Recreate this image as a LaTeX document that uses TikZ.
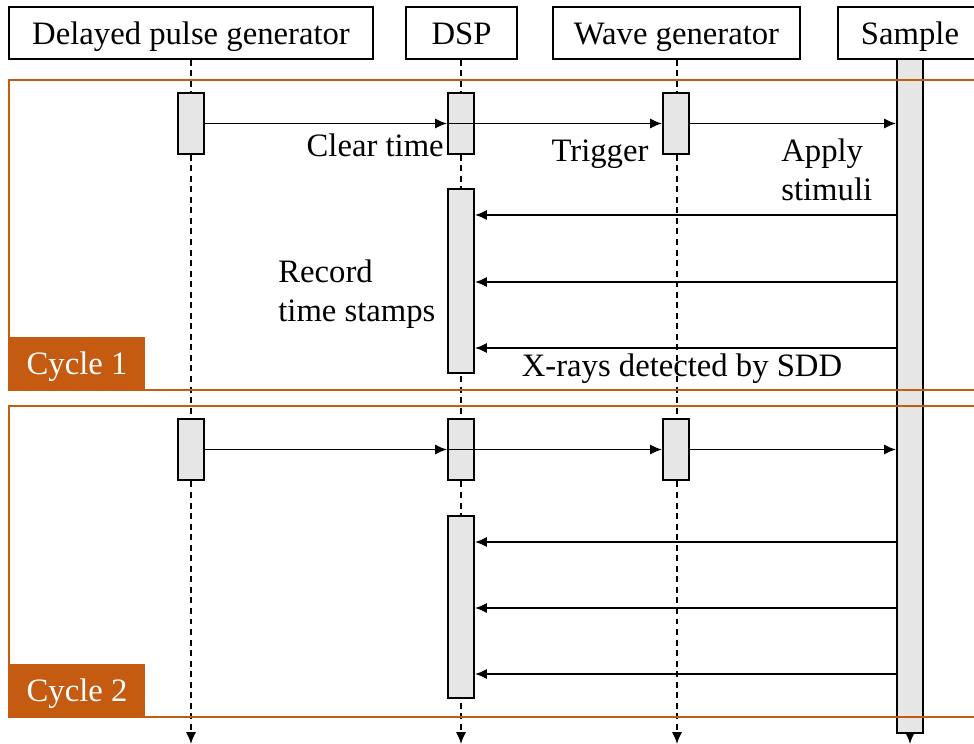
\documentclass[tikz,border=0pt]{standalone}
\usepackage{fontspec}
\setmainfont{Liberation Serif}
\usetikzlibrary{arrows.meta}
\definecolor{cycorange}{HTML}{C55A11}
\definecolor{actgray}{HTML}{E6E6E6}

\begin{document}
\begin{tikzpicture}
[x=0.02cm,y=-0.02cm,>={Latex[length=6.8pt,width=5.8pt]},font=\fontsize{18.6}{22.2}\selectfont,
head/.style={draw,line width=0.9pt,minimum height=1.04cm,inner sep=0pt,text height=13.6pt,text depth=0pt},
act/.style={draw,fill=actgray,line width=1.1pt,minimum width=0.52cm,inner sep=0pt},
life/.style={->,dash pattern=on 3.4pt off 2.6pt,line width=1pt},
msg/.style={->,line width=1.1pt},
frame/.style={draw=cycorange,line width=0.9pt},
tag/.style={fill=cycorange,text=white,minimum width=2.72cm,minimum height=1.06cm,inner sep=0pt,text height=13pt,text depth=0pt},
lbl/.style={inner sep=0pt},]

\useasboundingbox (0,0) rectangle (974,744);

%Participants
\node (dpg) at (191,33)[head,minimum width=7.28cm] {Delayed pulse generator};
\node (dsp) at (461.5,33)[head,minimum width=2.22cm] {DSP};
\node (wg) at (676.5,33)[head,minimum width=4.94cm] {Wave generator};
\node (smp) at (910,33)[head,minimum width=2.88cm] {Sample};

%Lifelines
\coordinate (dpgend) at (191,744);
\coordinate (dspend) at (461,744);
\coordinate (wgend) at (677,744);
\coordinate (smpend) at (910,744);
\draw[life] (dpg.south) -- (dpgend);
\draw[life] (dsp.south -| dspend) -- (dspend);
\draw[life] (wg.south -| wgend) -- (wgend);
\draw[life] (smp.south) -- (smpend);

%Sample bar
\node (bar) at (910,396)[act,minimum height=13.48cm] {};

%Cycle 1 boxes
\node (p1) at (191,123.5)[act,minimum height=1.22cm] {};
\node (d1) at (461,123.5)[act,minimum height=1.22cm] {};
\node (w1) at (676,123.5)[act,minimum height=1.22cm] {};
\node (r1) at (461,281)[act,minimum height=3.68cm] {};

%Cycle 2 boxes
\node (p2) at (191,449.5)[act,minimum height=1.22cm] {};
\node (d2) at (461,449.5)[act,minimum height=1.22cm] {};
\node (w2) at (676,449.5)[act,minimum height=1.22cm] {};
\node (r2) at (461,607)[act,minimum height=3.64cm] {};

%Points on the sample bar
\coordinate (s1) at (897,215);
\coordinate (s2) at (897,282);
\coordinate (s3) at (897,348);
\coordinate (s4) at (897,542);
\coordinate (s5) at (897,608);
\coordinate (s6) at (897,674);

%Cycle 1 messages
\draw[msg] (p1.east) -- (d1.west);
\draw[msg] (d1.west) -- (w1.west);
\draw[msg] (w1.east) -- (bar.west |- w1.east);
\draw[msg] (s1) -- (r1.east |- s1);
\draw[msg] (s2) -- (r1.east |- s2);
\draw[msg] (s3) -- (r1.east |- s3);

%Cycle 2 messages
\draw[msg] (p2.east) -- (d2.west);
\draw[msg] (d2.west) -- (w2.west);
\draw[msg] (w2.east) -- (bar.west |- w2.east);
\draw[msg] (s4) -- (r2.east |- s4);
\draw[msg] (s5) -- (r2.east |- s5);
\draw[msg] (s6) -- (r2.east |- s6);

%Labels
\node (clear) at (444,156)[lbl,anchor=base east] {Clear time};
\node (trig) at (600,161)[lbl,anchor=base] {Trigger};
\node (apply) at (781,170)[lbl,anchor=west,align=left] {Apply\\stimuli};
\node (rec) at (278,294)[lbl,anchor=west,align=left] {Record\\time stamps};
\node (xray) at (682,376)[lbl,anchor=base] {X-rays detected by SDD};

%Cycle frames
\draw[frame] (9,80) rectangle (990,390);
\draw[frame] (9,406) rectangle (990,717);
\node (cyc1) at (77,363.5)[tag] {Cycle 1};
\node (cyc2) at (77,690)[tag] {Cycle 2};

\end{tikzpicture}
\end{document}
